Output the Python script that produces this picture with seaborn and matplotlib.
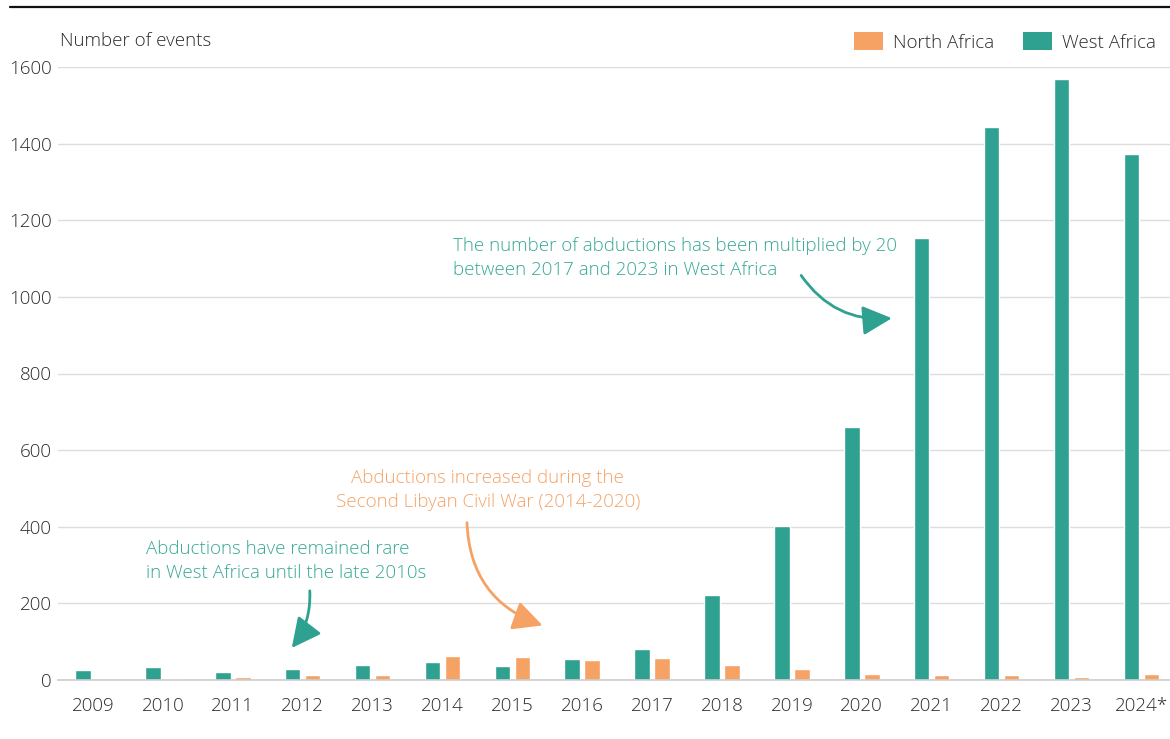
import matplotlib
matplotlib.use("Agg")
import matplotlib.pyplot as plt
from matplotlib.lines import Line2D
from matplotlib.patches import Patch
import seaborn as sns
import pandas as pd

# Abduction events per year and region
years = ["2009", "2010", "2011", "2012", "2013", "2014", "2015", "2016",
         "2017", "2018", "2019", "2020", "2021", "2022", "2023", "2024*"]
west_africa = [26, 33, 20, 30, 39, 48, 37, 54, 80, 223, 402, 660, 1154, 1444, 1569, 1373]
north_africa = [0, 3, 8, 12, 12, 63, 61, 52, 57, 38, 30, 16, 12, 12, 7, 15]
y_ticks = [0, 200, 400, 600, 800, 1000, 1200, 1400, 1600]

GREEN = "#2EA190"
GREEN_TEXT = "#36A896"
ORANGE = "#F6A264"
TEXT = "#2b2b2b"
FS = 13.5

df = pd.DataFrame({
    "year": years * 2,
    "events": west_africa + north_africa,
    "region": ["West Africa"] * len(years) + ["North Africa"] * len(years),
})

sns.set_theme(style="white")
plt.rcParams["font.family"] = ["Open Sans", "DejaVu Sans"]
plt.rcParams["font.weight"] = "light"

fig = plt.figure(figsize=(11.7, 7.39), dpi=100)
ax = fig.add_axes([58 / 1170, 1 - 680 / 739, 1 - 58 / 1170, (680 - 67) / 739])

sns.barplot(data=df, x="year", y="events", hue="region",
            hue_order=["West Africa", "North Africa"],
            palette={"West Africa": GREEN, "North Africa": ORANGE},
            width=0.572, gap=0.22, saturation=1, legend=False, ax=ax)

ax.set_xlim(-0.5, 15.41)
ax.set_ylim(0, 1600)
ax.set_yticks(y_ticks)
ax.set_xlabel("")
ax.set_ylabel("")
ax.grid(axis="y", color="#dddddd", linewidth=1)
ax.set_axisbelow(True)
for side in ["top", "right", "left"]:
    ax.spines[side].set_visible(False)
ax.spines["bottom"].set_color("#cccccc")
ax.spines["bottom"].set_linewidth(1.2)
ax.tick_params(axis="both", length=0, labelsize=FS, labelcolor=TEXT)
ax.tick_params(axis="x", pad=12)
ax.tick_params(axis="y", pad=4.3)

# Axis title
fig.text(60 / 1170, 1 - 41 / 739, "Number of events", fontsize=FS,
         color=TEXT, ha="left", va="center")

# Legend
handles = [Patch(facecolor=ORANGE, edgecolor="none"),
           Patch(facecolor=GREEN, edgecolor="none")]
fig.legend(handles, ["North Africa", "West Africa"], loc="center right",
           bbox_to_anchor=(1156 / 1170, 1 - 42 / 739), ncol=2, frameon=False,
           fontsize=FS, handlelength=1.55, handleheight=1.07,
           handletextpad=0.53, columnspacing=1.55, borderpad=0,
           borderaxespad=0, labelcolor=TEXT)

# Top rule
fig.add_artist(Line2D([10 / 1170, 1.0], [1 - 7 / 739, 1 - 7 / 739],
                      color="#111111", linewidth=1.6,
                      transform=fig.transFigure))

# Annotations
ann_kw = dict(fontsize=FS, linespacing=1.4)
arrow_style = "-|>,head_length=0.9,head_width=0.45"

ax.text(5.15, 1102, "The number of abductions has been multiplied by 20\n"
        "between 2017 and 2023 in West Africa",
        color=GREEN_TEXT, ha="left", va="center", **ann_kw)
ax.annotate("", xy=(11.47, 945), xytext=(10.11, 1062),
            arrowprops=dict(arrowstyle=arrow_style, color=GREEN, lw=2,
                            mutation_scale=20,
                            connectionstyle="arc3,rad=0.3"))

ax.text(5.65, 496, "Abductions increased during the\n"
        "Second Libyan Civil War (2014-2020)",
        color=ORANGE, ha="center", va="center", multialignment="center",
        **ann_kw)
ax.annotate("", xy=(6.47, 140), xytext=(5.35, 418),
            arrowprops=dict(arrowstyle=arrow_style, color=ORANGE, lw=2,
                            mutation_scale=20,
                            connectionstyle="arc3,rad=0.35"))

ax.text(0.76, 311, "Abductions have remained rare\n"
        "in West Africa until the late 2010s",
        color=GREEN_TEXT, ha="left", va="center", **ann_kw)
ax.annotate("", xy=(2.82, 78), xytext=(3.10, 240),
            arrowprops=dict(arrowstyle=arrow_style, color=GREEN, lw=2,
                            mutation_scale=20,
                            connectionstyle="arc3,rad=-0.2"))

fig.savefig("out.png", dpi=100)
